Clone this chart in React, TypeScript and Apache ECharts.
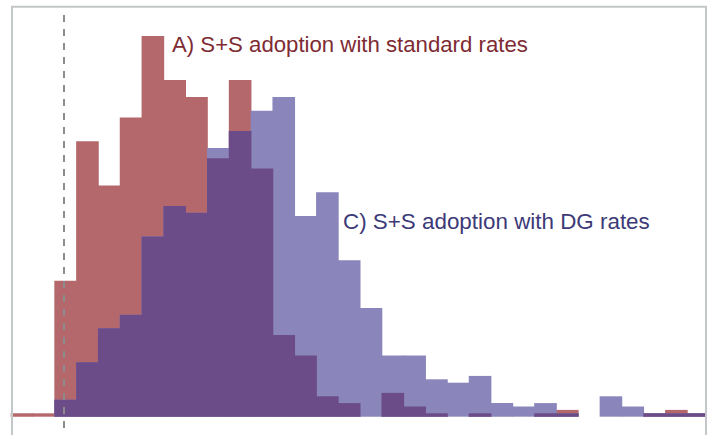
import React, { useEffect, useRef } from "react";
import * as echarts from "echarts";

// Histogram bins (equal width), counts per bin for each scenario
const binCount = 32;
const standardCounts = [1, 1, 40, 81, 68, 88, 112, 99, 94, 76, 99, 73, 24, 18, 6, 4, 0, 7, 3, 1, 0, 1, 0, 0, 1, 2, 0, 0, 0, 1, 2, 1];
const dgCounts = [0, 0, 5, 16, 26, 30, 53, 62, 60, 79, 84, 90, 94, 59, 66, 46, 32, 18, 18, 11, 10, 12, 4, 3, 4, 1, 0, 6, 3, 1, 1, 1];

const labelStandard = "A) S+S adoption with standard rates";
const labelDG = "C) S+S adoption with DG rates";

const RED = "#B4686B";
const BLUE = "#8A85BA";
const OVERLAP = "#6B4C89";

function histSeries(name: string, counts: number[], color: string) {
  return {
    type: "custom",
    name,
    encode: { x: 0, y: 1 },
    data: counts.map((v, i) => [i, v]),
    renderItem: (params: any, api: any) => {
      const i = api.value(0);
      const v = api.value(1);
      if (!v) return null;
      const p0 = api.coord([i, v]);
      const p1 = api.coord([i + 1, 0]);
      const cs = params.coordSys;
      // widen each bin a touch so neighbouring bins of one colour join without seams
      const shape = echarts.graphic.clipRectByRect(
        { x: p0[0], y: p0[1], width: p1[0] - p0[0] + 0.8, height: p1[1] - p0[1] },
        { x: cs.x, y: cs.y, width: cs.width, height: cs.height }
      );
      if (!shape) return null;
      return {
        type: "rect",
        shape,
        style: { fill: color },
      };
    },
  };
}

export default function App() {
  const ref = useRef<HTMLDivElement>(null);

  useEffect(() => {
    if (!ref.current) return;
    const chart = echarts.init(ref.current, null, { renderer: "svg" });
    const overlapCounts = standardCounts.map((v, i) => Math.min(v, dgCounts[i]));

    chart.setOption({
      animation: false,
      backgroundColor: "#ffffff",
      grid: { left: 10.7, right: 4, top: 8.7, bottom: 18.3 },
      xAxis: { type: "value", min: 0, max: binCount - 0.17, show: false },
      yAxis: { type: "value", min: 0, max: 120, show: false },
      series: [
        histSeries("standard", standardCounts, RED),
        histSeries("dg", dgCounts, BLUE),
        histSeries("overlap", overlapCounts, OVERLAP),
      ],
      graphic: [
        {
          type: "line",
          z: 50,
          shape: { x1: 64, y1: 15, x2: 64, y2: 440 },
          style: { stroke: "#8C8C8C", lineWidth: 2, lineDash: [7, 7] },
        },
        {
          type: "rect",
          z: 100,
          shape: { x: 12, y: 6.7, width: 694, height: 460 },
          style: { fill: "none", stroke: "#C3C7C7", lineWidth: 2 },
        },
        {
          type: "text",
          z: 60,
          x: 172,
          y: 44,
          style: {
            text: labelStandard,
            fill: "#7E2B33",
            font: "22.2px 'Liberation Sans', Arial, sans-serif",
            textVerticalAlign: "middle",
          },
        },
        {
          type: "text",
          z: 60,
          x: 343,
          y: 221,
          style: {
            text: labelDG,
            fill: "#3D3A78",
            font: "22.4px 'Liberation Sans', Arial, sans-serif",
            textVerticalAlign: "middle",
          },
        },
      ],
    });

    return () => chart.dispose();
  }, []);

  return (
    <div
      ref={ref}
      style={{ position: "fixed", left: 0, top: 0, width: 709, height: 435 }}
    />
  );
}
